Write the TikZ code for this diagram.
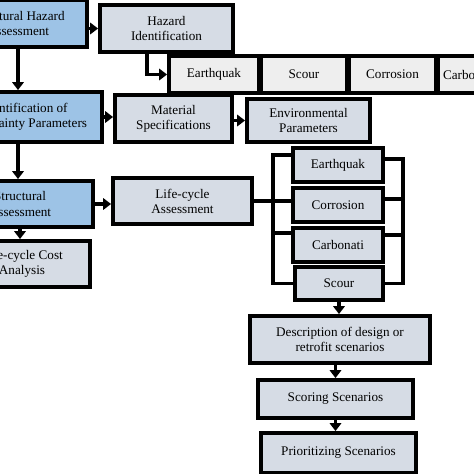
\documentclass[tikz,border=0pt]{standalone}
\usepackage{fontspec}
\setmainfont{Liberation Serif}
\usetikzlibrary{arrows.meta}
\definecolor{boxblue}{HTML}{9DC3E6}
\definecolor{boxgray}{HTML}{D6DCE5}
\definecolor{boxlight}{HTML}{EEEEEE}

\begin{document}
\begin{tikzpicture}[x=0.02cm,y=-0.02cm,
		box/.style={draw,line width=2.2pt,align=center,inner sep=0pt,font=\fontsize{7.5}{8.6}\selectfont},
		main/.style={box,fill=boxblue},
		sub/.style={box,fill=boxgray},
		haz/.style={box,fill=boxlight},
		sz/.style 2 args={minimum width=#1*0.02cm,minimum height=#2*0.02cm},
		arr/.style={line width=1.8pt,-{Triangle[length=4.5pt,width=6.5pt]}},
		bus/.style={line width=1.8pt}]
	\useasboundingbox (0,0) rectangle (474,474);
	\clip (0,0) rectangle (474,474);
	
	% left column
	\node[main,sz={138}{47}] (hazA) at (18,23.5) {Structural Hazard\\Assessment};
	\node[main,sz={154}{50}] (unc) at (25,117) {Identification of\\Uncertainty Parameters};
	\node[main,sz={146}{46}] (str) at (20,204) {Structural\\Assessment};
	\node[sub,sz={136}{46}] (lcc) at (22,264) {Life-cycle Cost\\Analysis};
	
	\node[sub,sz={133}{47}] (hazId) at (166.5,28.5) {Hazard\\Identification};
	\node[haz,sz={90}{37}] (eq1) at (214,74.5) {Earthquak};
	\node[haz,sz={86}{37}] (sc1) at (304,74.5) {Scour};
	\node[haz,sz={87}{37}] (co1) at (392.5,74.5) {Corrosion};
	\node[haz,sz={62}{37}] (ca1) at (469,74.5) {Carbonati};
	
	\node[sub,sz={117}{47}] (mat) at (173.5,118.5) {Material\\Specifications};
	\node[sub,sz={123}{43}] (env) at (308.5,120.5) {Environmental\\Parameters};
	\node[sub,sz={139}{46}] (lca) at (182.5,201) {Life-cycle\\Assessment};
	
	% hazards
	\node[sub,sz={90}{34}] (eq2) at (338,165) {Earthquak};
	\node[sub,sz={90}{34}] (co2) at (338,205) {Corrosion};
	\node[sub,sz={90}{34}] (ca2) at (338,245) {Carbonati};
	\node[sub,sz={88}{33}] (sc2) at (339,283.5) {Scour};
	
	\node[sub,sz={180}{47}] (desc) at (340,339.5) {Description of design or\\retrofit scenarios};
	\node[sub,sz={155}{38}] (score) at (335.5,399) {Scoring Scenarios};
	\node[sub,sz={155}{40}] (prio) at (338.5,453) {Prioritizing Scenarios};
	
	\coordinate (busL) at (273,200);
	\coordinate (busR) at (403,200);
	\draw[bus] (lca.east) -- (co2.west |- lca.east);
	\draw[bus] ([yshift=0.2cm]eq2.west) -| (busL) |- (sc2.west);
	\draw[bus] ([yshift=0.24cm]ca2.west) -- ++(-20,0);
	\draw[bus] ([yshift=0.12cm]eq2.east) -| (busR) |- (sc2.east);
	\draw[bus] ([yshift=0.12cm]co2.east) -- ++(20,0);
	\draw[bus] ([yshift=0.2cm]ca2.east) -- ++(20,0);
	
	\draw[arr] (hazA.east |- hazId.west) -- (hazId.west);
	\draw[arr] ([xshift=-0.39cm]hazId.south) |- (eq1.west);
	\draw[arr] (hazA.south) -- (hazA.south |- unc.north);
	\draw[arr] (hazA.south |- unc.south) -- (hazA.south |- str.north);
	\draw[arr] (unc.east) -- (unc.east -| mat.west);
	\draw[arr] (mat.east |- env.west) -- (env.west);
	\draw[arr] (str.east) -- (str.east -| lca.west);
	\draw[arr] (str.south) -- (str.south |- lcc.north);
	\draw[arr] (sc2.south) -- (sc2.south |- desc.north);
	\draw[arr] (score.north |- desc.south) -- (score.north);
	\draw[arr] (score.south) -- (score.south |- prio.north);
\end{tikzpicture}
\end{document}
